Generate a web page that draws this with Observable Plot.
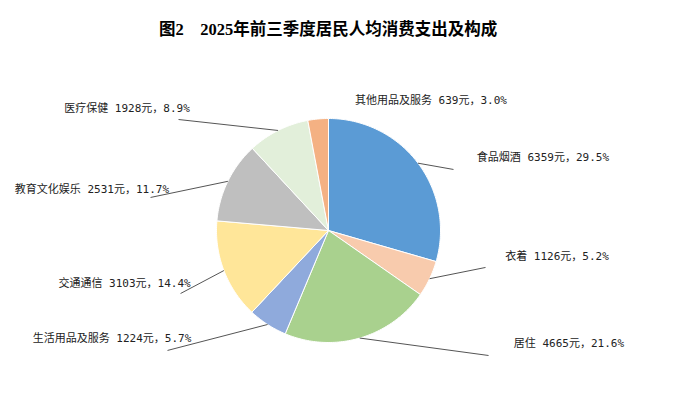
<!DOCTYPE html>
<html>
<head>
<meta charset="utf-8">
<script src="https://cdn.jsdelivr.net/npm/d3@7"></script>
<script src="https://cdn.jsdelivr.net/npm/@observablehq/plot@0.6"></script>
<style>
  html, body { margin: 0; padding: 0; background: #fff; }
  #title {
    width: 684px; box-sizing: border-box; height: 50px;
    padding-top: 20px; padding-right: 28px; line-height: 20px;
    text-align: center; font-family: "Liberation Serif", "Noto Sans CJK SC", serif;
    font-weight: bold; font-size: 16.5px; color: #000; white-space: pre;
  }
</style>
</head>
<body>
<div id="title">图2    2025年前三季度居民人均消费支出及构成</div>
<div id="chart"></div>
<script>
// ---- data ----
const categories = ["食品烟酒", "衣着", "居住", "生活用品及服务", "交通通信", "教育文化娱乐", "医疗保健", "其他用品及服务"];
const values = [6359, 1126, 4665, 1224, 3103, 2531, 1928, 639];
const shares = ["29.5%", "5.2%", "21.6%", "5.7%", "14.4%", "11.7%", "8.9%", "3.0%"];

// ---- style / layout (not data) ----
const colors = ["#5B9BD5", "#F8CBAD", "#A9D18E", "#8FAADC", "#FFE699", "#BFBFBF", "#E2EFDA", "#F4B183"];
// label centers and leader-line ends, in pie-radius units relative to the centre (y up)
const labelAt = [[1.915, 0.652], [2.04, -0.232], [2.147, -1.009], [-1.933, -0.964], [-1.821, -0.473], [-2.112, 0.366], [-1.799, 1.089], [0.915, 1.161]];
const leaderEnd = [[1.116, 0.545], [1.402, -0.33], [1.429, -1.116], [-1.4375, -1.071], [-1.321, -0.5625], [-1.589, 0.295], [-1.339, 0.991], null];

const W = 684, H = 355, R = 112, CX = 328, CY = 180;

const arcs = d3.pie().sort(null).value(d => d)(values);

const slicePts = [];
arcs.forEach((a, i) => {
  const cat = categories[i];
  slicePts.push({cat, x: 0, y: 0});
  const n = Math.max(2, Math.ceil((a.endAngle - a.startAngle) / (Math.PI / 180)));
  for (let k = 0; k <= n; k++) {
    const t = a.startAngle + (a.endAngle - a.startAngle) * k / n;
    slicePts.push({cat, x: Math.sin(t), y: Math.cos(t)});
  }
  slicePts.push({cat, x: 0, y: 0});
});

const leaders = [];
const labels = [];
arcs.forEach((a, i) => {
  const m = (a.startAngle + a.endAngle) / 2;
  if (leaderEnd[i]) {
    leaders.push({x1: Math.sin(m), y1: Math.cos(m), x2: leaderEnd[i][0], y2: leaderEnd[i][1]});
  }
  labels.push({x: labelAt[i][0], y: labelAt[i][1], text: `${categories[i]} ${values[i]}元，${shares[i]}`});
});

const chart = Plot.plot({
  width: W, height: H,
  marginTop: 0, marginRight: 0, marginBottom: 0, marginLeft: 0,
  x: {domain: [-CX / R, (W - CX) / R], axis: null},
  y: {domain: [-(H - CY) / R, CY / R], axis: null},
  color: {domain: categories, range: colors},
  style: {background: "#fff"},
  marks: [
    Plot.line(slicePts, {x: "x", y: "y", z: "cat", fill: "cat", stroke: "#fff", strokeWidth: 1, curve: "linear"}),
    Plot.link(leaders, {x1: "x1", y1: "y1", x2: "x2", y2: "y2", stroke: "#555", strokeWidth: 1}),
    Plot.text(labels, {x: "x", y: "y", text: "text", fontSize: 11, fill: "#222",
      fontFamily: "'DejaVu Sans Mono', 'Noto Sans CJK SC', monospace", textAnchor: "middle", lineAnchor: "middle"})
  ]
});
document.getElementById("chart").appendChild(chart);
</script>
</body>
</html>
